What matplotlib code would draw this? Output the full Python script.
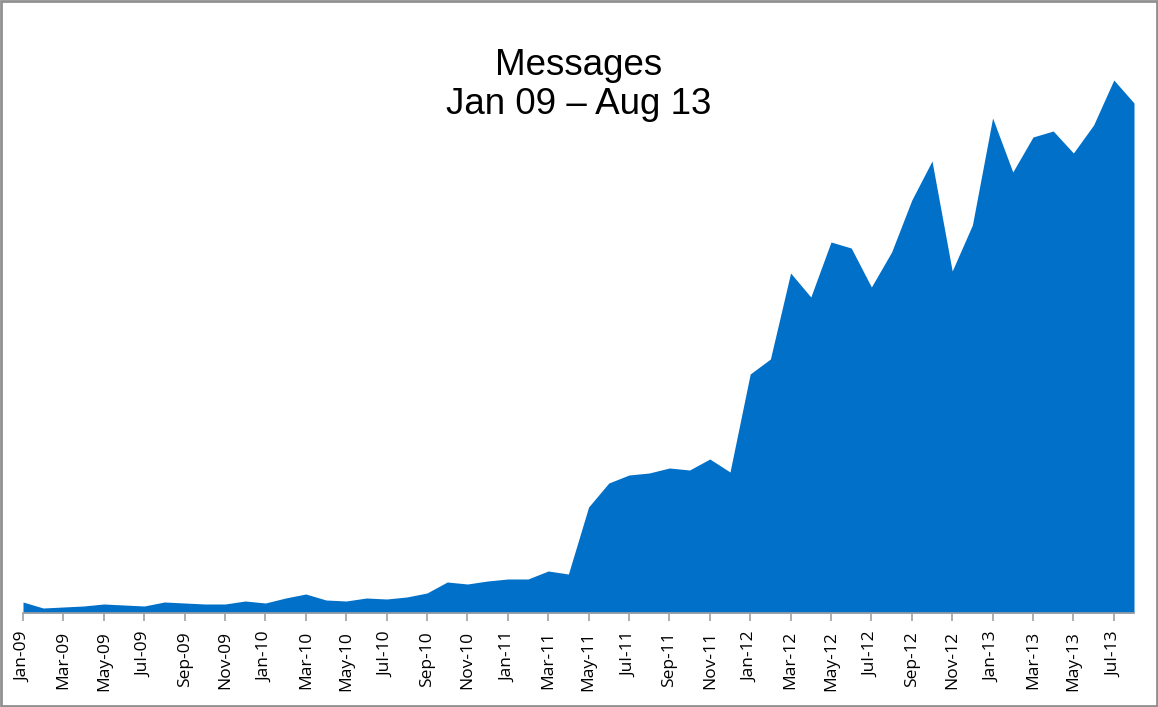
import numpy as np
import matplotlib
matplotlib.use('Agg')
import matplotlib.pyplot as plt
from matplotlib.patches import Rectangle

# ---- data (monthly message counts) --------------------------------------
MONTHS = ["Jan", "Feb", "Mar", "Apr", "May", "Jun",
          "Jul", "Aug", "Sep", "Oct", "Nov", "Dec"]
YEARS = ["09", "10", "11", "12", "13"]
month_labels = [f"{m}-{y}" for y in YEARS for m in MONTHS][:56]   # Jan-09 .. Aug-13

messages = [
    220, 100, 120, 140, 180, 160, 140, 220, 200, 180, 180, 240,   # 2009
    200, 300, 380, 260, 240, 300, 280, 320, 400, 620, 580, 640,   # 2010
    680, 680, 840, 780, 2120, 2600, 2760, 2800, 2900, 2860, 3080, 2820,  # 2011
    4780, 5080, 6800, 6320, 7420, 7300, 6520, 7220, 8260, 9040, 6840, 7760,  # 2012
    9900, 8820, 9520, 9640, 9200, 9760, 10660, 10200,             # 2013
]

FILL = '#0070C9'
GREY = '#A0A0A0'

fig = plt.figure(figsize=(11.58, 7.07), dpi=100)
ax = fig.add_axes([23/1158, (707-613)/707, (1134-23)/1158, (613-30)/707])

x = np.arange(len(messages))
ax.fill_between(x, messages, 0, color=FILL, lw=0)

ax.set_xlim(0, len(messages) - 1)
ax.set_ylim(0, max(messages) * 583 / 533)

ax.set_xticks(x[::2])
ax.set_xticklabels(month_labels[::2], rotation=90, fontsize=12.5,
                   family=['Open Sans', 'DejaVu Sans'])
ax.tick_params(axis='x', length=6, width=1.2, color=GREY, pad=7)
ax.set_yticks([])
for side in ['top', 'right', 'left']:
    ax.spines[side].set_visible(False)
ax.spines['bottom'].set_color(GREY)
ax.spines['bottom'].set_linewidth(1.2)

fig.text(0.5, 1 - 85/707, "Messages\nJan 09 \u2013 Aug 13", ha='center', va='center',
         fontsize=26.5, family=['Liberation Sans', 'DejaVu Sans'], linespacing=1.12)

# grey frame round the whole picture
fig.patches.append(Rectangle((0.001, 0.0015), 0.998, 0.997, transform=fig.transFigure,
                             fill=False, edgecolor='#909090', lw=2))

plt.savefig("out.png", dpi=100)
plt.close()
